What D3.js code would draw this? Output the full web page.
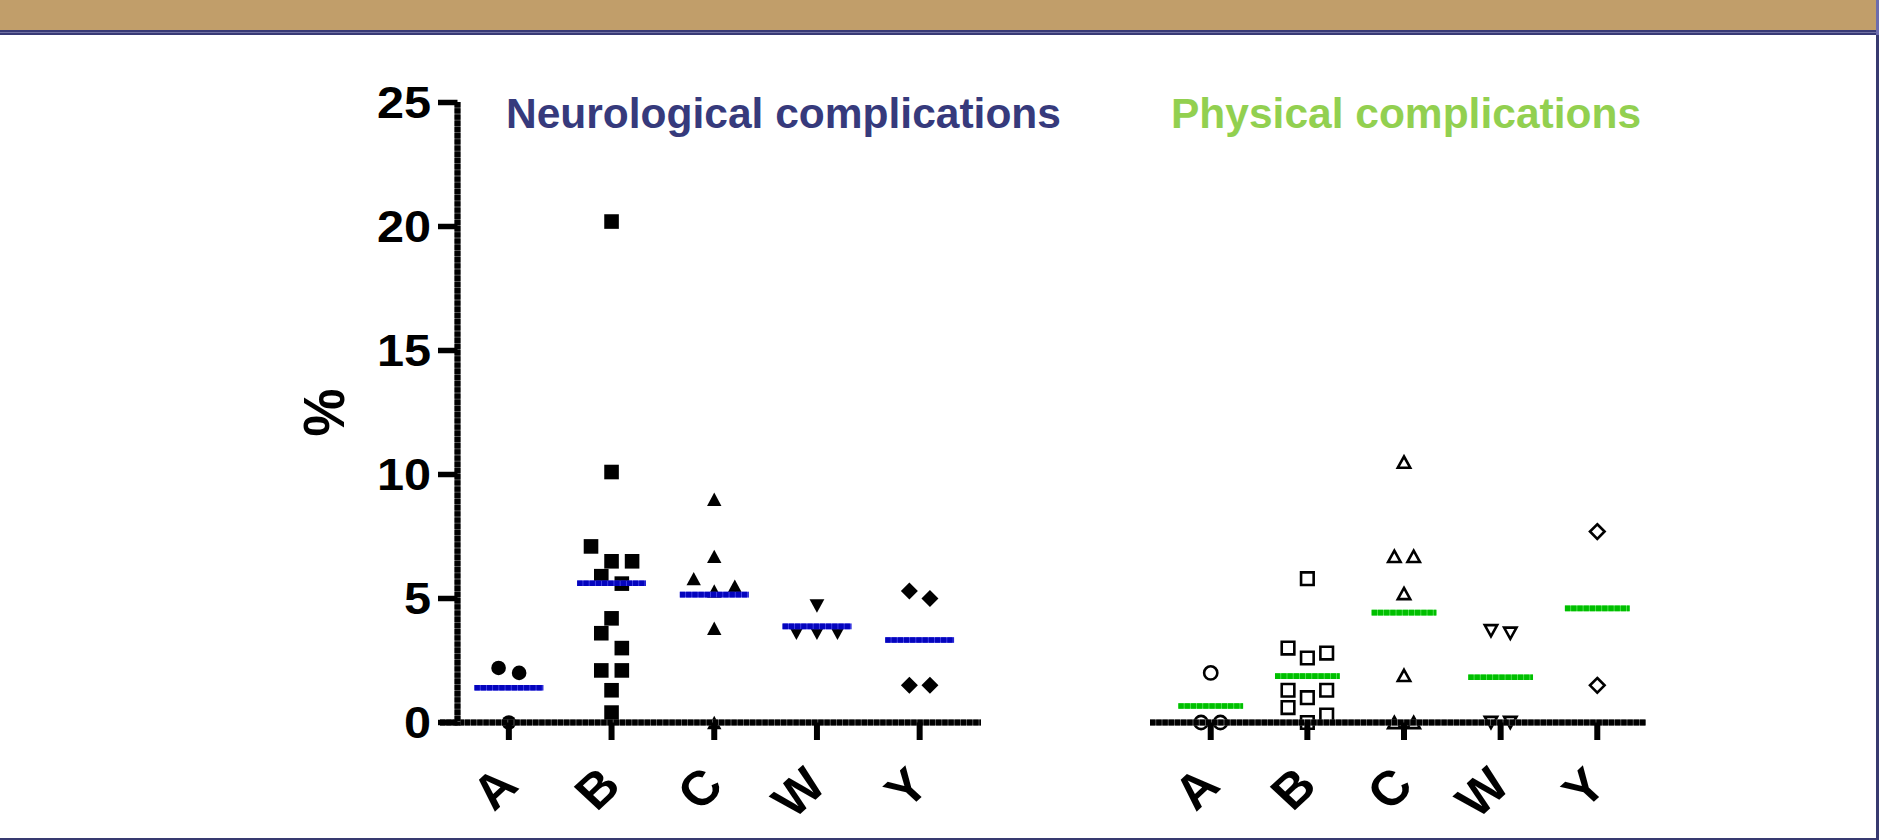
<!DOCTYPE html>
<html>
<head>
<meta charset="utf-8">
<script src="https://cdn.jsdelivr.net/npm/d3@7"></script>
<style>
  html, body { margin: 0; padding: 0; background: #fff; }
  svg { display: block; }
  text { font-family: "Liberation Sans", Arial, Helvetica, sans-serif; font-weight: bold; }
</style>
</head>
<body>
<svg id="chart" width="1884" height="840"></svg>
<script>
// ---- data -------------------------------------------------------------
const categories = ["A", "B", "C", "W", "Y"];
const yTickValues = [0, 5, 10, 15, 20, 25];
const yLabel = "%";
const panelTitles = ["Neurological complications", "Physical complications"];

// Neurological complications (%), one value per study, by category
const neuroA = [2.2, 2.0, 0];
const neuroB = [20.2, 10.1, 7.1, 6.5, 6.5, 5.9, 5.6, 4.2, 3.6, 3.0, 2.1, 2.1, 1.3, 0.4];
const neuroC = [9.0, 6.7, 5.8, 5.3, 5.5, 3.8, 0];
const neuroW = [4.7, 3.6, 3.6, 3.6];
const neuroY = [5.3, 5.0, 1.5, 1.5];

// Physical complications (%), one value per study, by category
const physA = [2.0, 0, 0];
const physB = [5.8, 3.0, 2.6, 2.8, 1.3, 1.0, 1.3, 0.6, 0, 0.3];
const physC = [10.5, 6.7, 6.7, 5.2, 1.9, 0, 0];
const physW = [3.7, 3.6, 0, 0];
const physY = [7.7, 1.5];

// ---- layout ------------------------------------------------------------
const svg = d3.select("#chart");

const y = d3.scaleLinear().domain([0, 25]).range([722.5, 102.5]);

const panels = [
  {
    title: panelTitles[0], titleColor: "#363a7c", titleX: 506,
    series: [neuroA, neuroB, neuroC, neuroW, neuroY],
    open: false, meanColor: "#0505bd", meanStripe: "#4d4df0",
    range: [457.5, 971], axisFrom: 440, axisTo: 981, yAxis: true
  },
  {
    title: panelTitles[1], titleColor: "#92d050", titleX: 1171,
    series: [physA, physB, physC, physW, physY],
    open: true, meanColor: "#00bf00", meanStripe: "#5ee85e",
    range: [1162.4, 1645.6], axisFrom: 1150, axisTo: 1646, yAxis: false
  }
];
const shapes = ["circle", "square", "triUp", "triDown", "diamond"];

// ---- page frame --------------------------------------------------------
svg.append("rect").attr("x", 0).attr("y", 0).attr("width", 1877).attr("height", 30).attr("fill", "#c19e6a");
svg.append("rect").attr("x", 0).attr("y", 30).attr("width", 1877).attr("height", 5).attr("fill", "#383a76");
svg.append("rect").attr("x", 0).attr("y", 32).attr("width", 1877).attr("height", 0.8).attr("fill", "#8080b0");
svg.append("rect").attr("x", 1876).attr("y", 0).attr("width", 3).attr("height", 35).attr("fill", "#6c6cae");
svg.append("rect").attr("x", 1876).attr("y", 35).attr("width", 3).attr("height", 805).attr("fill", "#383a70");
svg.append("rect").attr("x", 0).attr("y", 838).attr("width", 1879).attr("height", 2).attr("fill", "#383a70");

// ---- helpers -----------------------------------------------------------
// Prism-style spreading: values within `tol` of a row's lowest value share one row,
// and each row is spread symmetrically around the column centre in entry order.
function rowSlots(values, tol) {
  const order = d3.range(values.length).sort((a, b) => values[a] - values[b] || a - b);
  const rows = [];
  let cur = null;
  for (const i of order) {
    if (cur && values[i] - values[cur[0]] < tol) cur.push(i);
    else { cur = [i]; rows.push(cur); }
  }
  const slot = new Array(values.length);
  rows.forEach(r => {
    r.sort((a, b) => a - b);
    r.forEach((i, k) => { slot[i] = k - (r.length - 1) / 2; });
  });
  return slot;
}

function markerPath(shape, open) {
  const p = d3.path();
  if (shape === "circle") {
    const r = open ? 6.6 : 7.3;
    p.arc(0, 0, r, 0, 2 * Math.PI);
  } else if (shape === "square") {
    const h = open ? 6.3 : 7.3;
    p.rect(-h, -h, 2 * h, 2 * h);
  } else if (shape === "triUp") {
    const w = open ? 6.2 : 7.2, hh = open ? 5.6 : 6.7;
    p.moveTo(0, -hh); p.lineTo(w, hh); p.lineTo(-w, hh); p.closePath();
  } else if (shape === "triDown") {
    const w = open ? 6.2 : 7.4, hh = open ? 5.6 : 6.7;
    p.moveTo(-w, -hh); p.lineTo(w, -hh); p.lineTo(0, hh); p.closePath();
  } else if (shape === "diamond") {
    const d = open ? 7.3 : 8.5;
    p.moveTo(0, -d); p.lineTo(d, 0); p.lineTo(0, d); p.lineTo(-d, 0); p.closePath();
  }
  return p.toString();
}

// textured heavy line (solid colour broken by fine lighter hairlines)
function heavyLine(g, x1, y1, x2, y2, w, color, stripe) {
  g.append("line").attr("x1", x1).attr("y1", y1).attr("x2", x2).attr("y2", y2)
    .attr("stroke", stripe).attr("stroke-width", w);
  g.append("line").attr("x1", x1).attr("y1", y1).attr("x2", x2).attr("y2", y2)
    .attr("stroke", color).attr("stroke-width", w).attr("stroke-dasharray", "5.4 0.8");
}

// ---- panels ------------------------------------------------------------
panels.forEach(pan => {
  const x = d3.scaleBand().domain(categories).range(pan.range).paddingInner(0).paddingOuter(0);
  const step = x.step();
  const g = svg.append("g");

  // title
  g.append("text").attr("x", pan.titleX).attr("y", 128)
    .attr("fill", pan.titleColor).attr("font-size", 42.5).text(pan.title);

  // data points
  const pts = g.append("g");
  categories.forEach((c, ci) => {
    const vals = pan.series[ci];
    const slots = rowSlots(vals, 0.7);
    const cx = x(c) + step / 2;
    pts.selectAll(null).data(vals).enter().append("path")
      .attr("d", markerPath(shapes[ci], pan.open))
      .attr("transform", (v, i) => `translate(${cx + slots[i] * step * 0.2},${y(v)})`)
      .attr("fill", pan.open ? "none" : "#000")
      .attr("stroke", pan.open ? "#000" : "none")
      .attr("stroke-width", pan.open ? 2.6 : 0);
  });

  // axes
  const ax = g.append("g");
  heavyLine(ax, pan.axisFrom, y(0), pan.axisTo, y(0), 6, "#000", "#6a6a6a");
  categories.forEach(c => {
    const cx = x(c) + step / 2;
    ax.append("line").attr("x1", cx).attr("x2", cx).attr("y1", y(0)).attr("y2", 740)
      .attr("stroke", "#000").attr("stroke-width", 6);
    ax.append("text")
      .attr("transform", `translate(${cx + 11.5},788) scale(1.08,1) rotate(-45)`)
      .attr("text-anchor", "end")
      .attr("font-size", 48).attr("fill", "#000").text(c);
  });

  if (pan.yAxis) {
    const x0 = pan.range[0];
    heavyLine(ax, x0, y(25) - 0.5, x0, y(0) + 3, 6, "#000", "#6a6a6a");
    yTickValues.forEach(v => {
      ax.append("line").attr("x1", 438).attr("x2", x0).attr("y1", y(v)).attr("y2", y(v))
        .attr("stroke", "#000").attr("stroke-width", 5.5);
      ax.append("text")
        .attr("transform", `translate(431,${y(v) + 15.5}) scale(1.08,1)`)
        .attr("text-anchor", "end").attr("font-size", 45).attr("fill", "#000").text(v);
    });
    ax.append("text").attr("transform", "translate(324,412.5) scale(1.05,1) rotate(-90)")
      .attr("text-anchor", "middle").attr("dy", "0.36em")
      .attr("font-size", 54).attr("fill", "#000").text(yLabel);
  }

  // group means
  const mg = g.append("g");
  categories.forEach((c, ci) => {
    const m = d3.mean(pan.series[ci]);
    const cx = x(c) + step / 2, hw = step * 0.335;
    heavyLine(mg, cx - hw, y(m), cx + hw, y(m), 5.6, pan.meanColor, pan.meanStripe);
  });
});
</script>
</body>
</html>
